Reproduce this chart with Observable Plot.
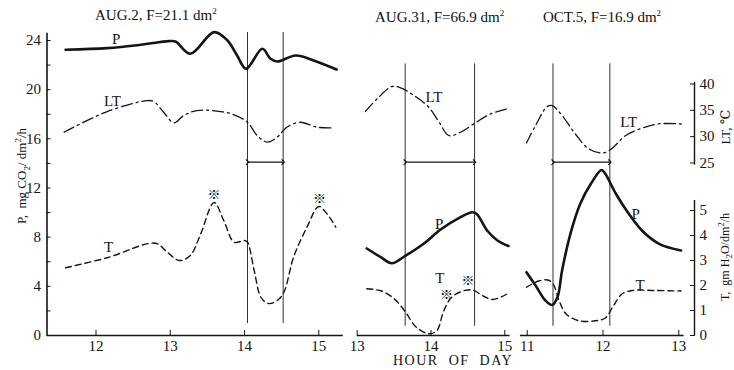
<!DOCTYPE html>
<html><head><meta charset="utf-8">
<script src="https://cdn.jsdelivr.net/npm/d3@7"></script>
<script src="https://cdn.jsdelivr.net/npm/@observablehq/plot@0.6"></script>
<style>
body{margin:0;background:#fff}
#chart{position:relative;width:734px;height:370px;overflow:hidden;background:#fff;font-family:"Liberation Serif","DejaVu Serif","Noto Sans CJK JP",serif;color:#111}
#chart svg{position:absolute;left:0;top:0}
.lbl{position:absolute;white-space:nowrap;font-size:15px;line-height:18px}
.rot{position:absolute;white-space:nowrap;font-size:13px;line-height:16px;transform:translate(-50%,-50%) rotate(-90deg)}
sub,sup{font-size:9px;line-height:0}
</style></head><body><div id="chart"></div>
<script>
// ---------- data (hour of day, value) ----------
const panelTitles = ["AUG.2, F=21.1 dm²", "AUG.31, F=66.9 dm²", "OCT.5, F=16.9 dm²"];
const aug2Ticks = [12, 13, 14, 15];
const aug31Ticks = [13, 14, 15];
const oct5Ticks = [11, 12, 13];
const pTickLabels = [0, 4, 8, 12, 16, 20, 24];
const pMinorTicks = [0, 2, 4, 6, 8, 10, 12, 14, 16, 18, 20, 22, 24];
const ltTickLabels = [25, 30, 35, 40];
const tTickLabels = [0, 1, 2, 3, 4, 5];

const aug2P = [[11.59,23.25],[12.15,23.38],[12.60,23.65],[12.98,23.95],[13.07,23.92],[13.27,22.92],[13.59,24.68],[13.77,24.0],[13.90,22.78],[14.02,21.70],[14.24,23.33],[14.35,22.51],[14.44,22.29],[14.69,22.78],[14.93,22.38],[15.24,21.64]];
const aug2LT = [[11.57,30.84],[12.15,34.77],[12.69,36.86],[12.78,36.67],[12.91,34.64],[13.05,32.63],[13.18,34.01],[13.36,34.96],[13.68,34.77],[13.86,34.15],[14.04,32.74],[14.17,30.22],[14.31,28.95],[14.44,29.90],[14.57,31.79],[14.75,32.74],[14.98,31.79],[15.20,31.68]];
const aug2T = [[11.59,2.71],[12.15,3.11],[12.80,3.69],[12.96,3.33],[13.12,3.00],[13.27,3.20],[13.41,4.07],[13.59,5.32],[13.72,4.60],[13.86,3.73],[14.00,3.80],[14.04,3.73],[14.13,2.60],[14.22,1.53],[14.32,1.28],[14.44,1.40],[14.53,1.73],[14.66,3.13],[14.84,4.33],[15.00,5.16],[15.11,4.87],[15.23,4.33]];

const aug31LT = [[13.11,34.77],[13.27,37.18],[13.47,39.52],[13.59,39.27],[13.77,37.81],[13.97,35.59],[14.11,32.74],[14.24,30.22],[14.40,30.84],[14.58,32.44],[14.81,34.34],[15.03,35.28]];
const aug31P = [[13.13,7.08],[13.32,6.37],[13.47,5.88],[13.65,6.47],[13.90,7.46],[14.13,8.62],[14.40,9.63],[14.56,10.03],[14.62,9.89],[14.76,8.54],[14.90,7.73],[15.05,7.28]];
const aug31T = [[13.13,1.87],[13.33,1.78],[13.50,1.47],[13.65,0.96],[13.79,0.36],[13.97,0.07],[14.08,0.20],[14.17,0.96],[14.29,1.56],[14.54,1.83],[14.72,1.56],[14.84,1.44],[15.05,1.69]];

const oct5LT = [[10.99,28.80],[11.11,32.12],[11.26,35.66],[11.33,35.91],[11.46,34.01],[11.64,30.41],[11.81,27.69],[11.99,26.90],[12.10,27.56],[12.30,30.22],[12.52,31.64],[12.74,32.44],[13.04,32.40]];
const oct5P = [[10.99,5.15],[11.11,4.07],[11.24,2.85],[11.33,2.48],[11.40,3.13],[11.46,5.29],[11.57,8.27],[11.70,10.72],[11.84,12.34],[11.98,13.47],[12.03,13.16],[12.17,11.53],[12.34,9.90],[12.52,8.50],[12.74,7.46],[13.03,6.92]];
const oct5T = [[10.99,1.93],[11.15,2.18],[11.27,2.22],[11.34,2.07],[11.42,1.40],[11.51,0.87],[11.68,0.59],[11.90,0.59],[12.03,0.70],[12.14,1.20],[12.25,1.66],[12.39,1.80],[12.69,1.80],[13.03,1.78]];

// stress window (vertical lines) and arrows, in hours; P-units for spans
const aug2Window = [14.04, 14.52];
const aug31Window = [13.65, 14.59];
const oct5Window = [11.34, 12.09];
const windowSpanAug2 = [0.98, 24.65];
const windowSpanOther = [0.75, 22.1];
const arrowLevel = 14.1;

// ※ markers (hour, T)
const aug2Stars = [[13.59, 5.64], [15.01, 5.47]];
const aug31Stars = [[14.50, 2.2], [14.21, 1.64]];

// series labels: [hour, value, text]
const aug2PLabel = [[12.27, 24.08, "P"]];
const aug2LTLabel = [[12.22, 36.67, "LT"]];
const aug2TLabel = [[12.17, 3.53, "T"]];
const aug31LTLabel = [[14.04, 37.49, "LT"]];
const aug31PLabel = [[14.11, 9.09, "P"]];
const aug31TLabel = [[14.12, 2.3, "T"]];
const oct5LTLabel = [[12.34, 32.74, "LT"]];
const oct5PLabel = [[12.43, 9.90, "P"]];
const oct5TLabel = [[12.49, 2.0, "T"]];

// ---------- layout ----------
const W = 734, H = 370;
const INK = "#151515";
const FONT = "'Liberation Serif', 'DejaVu Serif', 'Noto Sans CJK JP', serif";
const chart = document.getElementById("chart");
const Y_P = {domain: [0, 24], px: [335, 40]};
const Y_LT = {domain: [25, 40], px: [162.5, 83.5]};
const Y_T = {domain: [0, 5], px: [335, 210]};
const panels = [
  {x: [11.34, 15.33], px: [46.5, 342.8]},
  {x: [13, 15.07], px: [356.7, 509.5]},
  {x: [10.91, 13.07], px: [519.9, 683.6]}
];
const RIGHT = {x: [0, 1], px: [600, 694]};

function layer(px, yy, marks) {
  const svg = Plot.plot({
    width: W, height: H,
    marginLeft: px.px[0], marginRight: W - px.px[1],
    marginTop: yy.px[1], marginBottom: H - yy.px[0],
    x: {domain: px.x, axis: null},
    y: {domain: yy.domain, axis: null},
    style: {background: "transparent", fontFamily: FONT, fontSize: "14px", color: INK, overflow: "visible"},
    marks
  });
  chart.append(svg);
}
const hx = d => d[0], vy = d => d[1];
const lineP = data => Plot.line(data, {x: hx, y: vy, curve: "catmull-rom", stroke: INK, strokeWidth: 2.6});
const lineLT = data => Plot.line(data, {x: hx, y: vy, curve: "catmull-rom", stroke: INK, strokeWidth: 1.3, strokeDasharray: "11,4,2,4"});
const lineT = data => Plot.line(data, {x: hx, y: vy, curve: "catmull-rom", stroke: INK, strokeWidth: 1.4, strokeDasharray: "6,4"});
const label = data => Plot.text(data, {x: hx, y: vy, text: d => d[2], fill: INK, fontSize: 15, fontFamily: FONT});
const stars = data => Plot.text(data, {x: hx, y: vy, text: () => "※", fill: "#000", fontSize: 13, fontWeight: "bold", fontFamily: "'Noto Sans CJK JP', 'DejaVu Sans', sans-serif"});
const xAxis = ticks => [
  Plot.axisX(ticks, {anchor: "bottom", tickSize: 5, dy: -5, fill: "none", stroke: INK, label: null}),
  Plot.axisX(ticks, {anchor: "bottom", tickSize: 0, tickPadding: 5, fill: INK, fontSize: 15, label: null})
];
const windowMarks = (win, span) => [
  Plot.ruleX(win, {y1: span[0], y2: span[1], stroke: "#333", strokeWidth: 1}),
  Plot.link([win], {x1: d => d[0], x2: d => d[1], y1: arrowLevel, y2: arrowLevel, stroke: INK, strokeWidth: 1.2, markerStart: "arrow", markerEnd: "arrow"})
];

// Panel 1 (AUG.2)
layer(panels[0], Y_P, [
  Plot.ruleX([panels[0].x[0]], {y1: 0, y2: 24.6, stroke: INK, strokeWidth: 1.6}),
  Plot.ruleY([0], {stroke: INK, strokeWidth: 1.6}),
  Plot.axisY(pMinorTicks, {anchor: "left", tickSize: 4, dx: 4, fill: "none", stroke: INK, label: null}),
  Plot.axisY(pTickLabels, {anchor: "left", tickSize: 0, tickPadding: 6, fill: INK, fontSize: 15, label: null}),
  ...xAxis(aug2Ticks),
  ...windowMarks(aug2Window, windowSpanAug2),
  lineP(aug2P),
  label(aug2PLabel)
]);
layer(panels[0], Y_LT, [lineLT(aug2LT), label(aug2LTLabel)]);
layer(panels[0], Y_T, [lineT(aug2T), label(aug2TLabel), stars(aug2Stars)]);

// Panel 2 (AUG.31)
layer(panels[1], Y_P, [
  Plot.ruleY([0], {stroke: INK, strokeWidth: 1.6}),
  ...xAxis(aug31Ticks),
  ...windowMarks(aug31Window, windowSpanOther),
  lineP(aug31P),
  label(aug31PLabel)
]);
layer(panels[1], Y_LT, [lineLT(aug31LT), label(aug31LTLabel)]);
layer(panels[1], Y_T, [lineT(aug31T), label(aug31TLabel), stars(aug31Stars)]);

// Panel 3 (OCT.5)
layer(panels[2], Y_P, [
  Plot.ruleY([0], {stroke: INK, strokeWidth: 1.6}),
  ...xAxis(oct5Ticks),
  ...windowMarks(oct5Window, windowSpanOther),
  lineP(oct5P),
  label(oct5PLabel)
]);
layer(panels[2], Y_LT, [lineLT(oct5LT), label(oct5LTLabel)]);
layer(panels[2], Y_T, [lineT(oct5T), label(oct5TLabel)]);

// Right axes
layer(RIGHT, Y_LT, [
  Plot.ruleX([1], {y1: 24.6, y2: 40.3, stroke: INK, strokeWidth: 1.4}),
  Plot.axisY(ltTickLabels, {anchor: "right", tickSize: 5, dx: -5, fill: "none", stroke: INK, label: null}),
  Plot.axisY(ltTickLabels, {anchor: "right", tickSize: 0, tickPadding: 5, fill: INK, fontSize: 15, label: null})
]);
layer(RIGHT, Y_T, [
  Plot.ruleX([1], {y1: 0, y2: 5.4, stroke: INK, strokeWidth: 1.4}),
  Plot.axisY(tTickLabels, {anchor: "right", tickSize: 5, dx: -5, fill: "none", stroke: INK, label: null}),
  Plot.axisY(tTickLabels, {anchor: "right", tickSize: 0, tickPadding: 5, fill: INK, fontSize: 15, label: null})
]);

// ---------- text ----------
function addDiv(cls, html, style) {
  const d = document.createElement("div");
  d.className = cls; d.innerHTML = html;
  Object.assign(d.style, style);
  chart.append(d);
}
const sq = t => t.replace("dm²", "dm<sup>2</sup>");
addDiv("lbl", sq(panelTitles[0]), {left: "95px", top: "6px"});
addDiv("lbl", sq(panelTitles[1]), {left: "375px", top: "8px"});
addDiv("lbl", sq(panelTitles[2]), {left: "543px", top: "8px"});
addDiv("rot", "P,&nbsp; mg CO<sub>2</sub>/ dm<sup>2</sup>/h", {left: "22px", top: "176px"});
addDiv("rot", "LT, ℃", {left: "726px", top: "127px"});
addDiv("rot", "T,&nbsp; gm H<sub>2</sub>O/dm<sup>2</sup>/h", {left: "725px", top: "257px", fontSize: "12px"});
addDiv("lbl", "HOUR&nbsp; OF&nbsp; DAY", {left: "393px", top: "352px", letterSpacing: "1.5px", fontSize: "14px"});
</script>
</body></html>
